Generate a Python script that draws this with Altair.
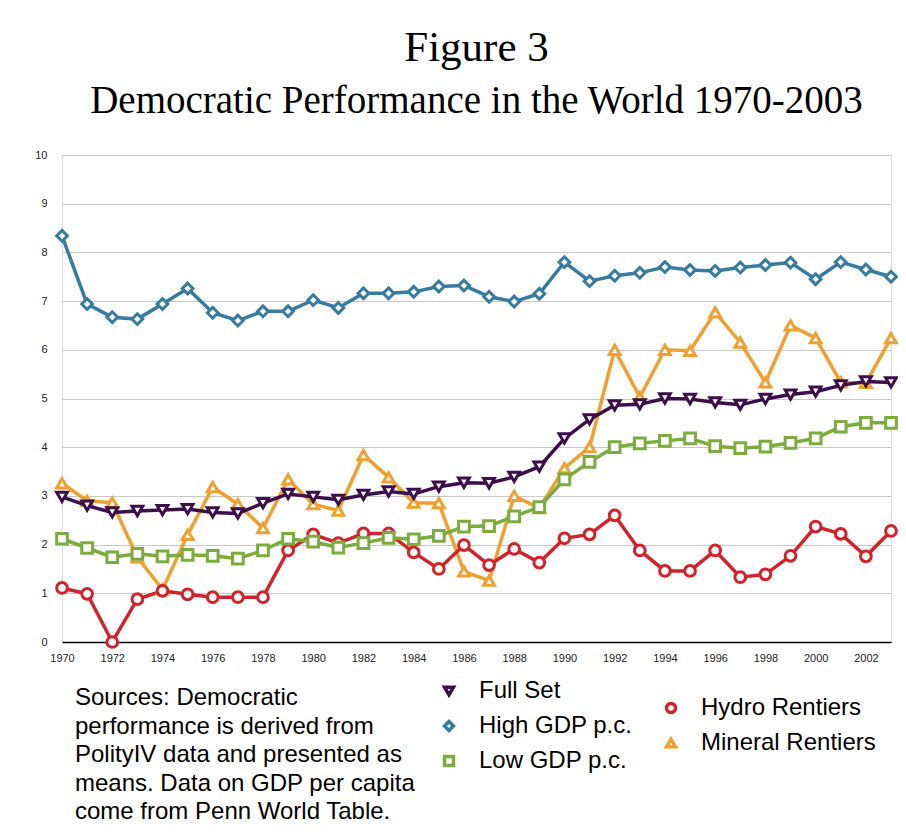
import altair as alt
import pandas as pd

years = list(range(1970, 2004))

full_set = [2.98, 2.80, 2.66, 2.69, 2.71, 2.73, 2.66, 2.64, 2.85, 3.04,
            2.98, 2.92, 3.02, 3.09, 3.04, 3.19, 3.27, 3.26, 3.39, 3.60,
            4.18, 4.57, 4.86, 4.88, 5.00, 4.99, 4.92, 4.87, 4.99, 5.08,
            5.14, 5.27, 5.35, 5.33]
high_gdp = [8.34, 6.94, 6.67, 6.63, 6.94, 7.26, 6.76, 6.60, 6.79, 6.79,
            7.02, 6.86, 7.16, 7.16, 7.19, 7.30, 7.32, 7.09, 6.99, 7.15,
            7.80, 7.41, 7.52, 7.58, 7.70, 7.64, 7.62, 7.69, 7.74, 7.79,
            7.45, 7.80, 7.65, 7.50]
low_gdp = [2.12, 1.93, 1.74, 1.81, 1.76, 1.79, 1.77, 1.71, 1.88, 2.12,
           2.06, 1.94, 2.03, 2.14, 2.11, 2.18, 2.37, 2.38, 2.58, 2.77,
           3.34, 3.70, 4.00, 4.08, 4.13, 4.18, 4.02, 3.98, 4.01, 4.09,
           4.18, 4.42, 4.50, 4.50]
hydro = [1.11, 0.99, 0.00, 0.88, 1.05, 0.98, 0.92, 0.92, 0.92, 1.88,
         2.21, 2.03, 2.23, 2.23, 1.84, 1.50, 1.99, 1.58, 1.91, 1.63,
         2.13, 2.21, 2.60, 1.88, 1.46, 1.46, 1.88, 1.33, 1.39, 1.77,
         2.37, 2.22, 1.76, 2.28]
mineral = [3.26, 2.90, 2.86, 1.74, 1.08, 2.20, 3.18, 2.83, 2.34, 3.34,
           2.83, 2.70, 3.84, 3.38, 2.86, 2.85, 1.45, 1.26, 3.00, 2.75,
           3.57, 4.00, 6.00, 5.03, 6.00, 5.98, 6.77, 6.15, 5.33, 6.50,
           6.24, 5.33, 5.32, 6.24]

series_a = ["Full Set", "High GDP p.c.", "Low GDP p.c."]
colors_a = ["#3c0f4b", "#367ba0", "#7aad3d"]
shapes_a = ["triangle-down", "diamond", "square"]
series_b = ["Hydro Rentiers", "Mineral Rentiers"]
colors_b = ["#d2232a", "#f0a030"]
shapes_b = ["circle", "triangle-up"]

x_ticks = list(range(1970, 2003, 2))
y_ticks = list(range(0, 11))

title_text = "Figure 3"
subtitle_text = "Democratic Performance in the World 1970-2003"
sources_lines = ["Sources: Democratic",
                 "performance is derived from",
                 "PolityIV data and presented as",
                 "means. Data on GDP per capita",
                 "come from Penn World Table."]


def long_frame(pairs):
    rows = []
    for name, vals in pairs:
        for y, v in zip(years, vals):
            rows.append({"year": y, "value": v, "series": name})
    return pd.DataFrame(rows)


# drawing order: bottom first
df_b = long_frame([("Mineral Rentiers", mineral), ("Hydro Rentiers", hydro)])
df_a = long_frame([("Low GDP p.c.", low_gdp), ("High GDP p.c.", high_gdp), ("Full Set", full_set)])

FONT = "Liberation Sans"

x_enc = alt.X("year:Q",
              scale=alt.Scale(domain=[1970, 2003], nice=False, zero=False),
              axis=alt.Axis(values=x_ticks, format="d", title=None, grid=False,
                            ticks=False, tickSize=0, domainColor="black", domainWidth=1.5,
                            labelPadding=10, labelFontSize=11, labelFont=FONT,
                            labelColor="#222222", labelFlush=False))
y_enc = alt.Y("value:Q",
              scale=alt.Scale(domain=[0, 10], nice=False, zero=True),
              axis=alt.Axis(values=y_ticks, title=None, domain=False, ticks=False,
                            tickSize=0, gridColor="#c8c8c8", gridWidth=1,
                            labelPadding=15, labelFontSize=11, labelFont=FONT,
                            labelColor="#222222"))


def make_group(df, names, colors, shapes, lx, ly):
    leg = alt.Legend(title=None, orient="none", legendX=lx, legendY=ly,
                     labelFontSize=24, labelFont=FONT, labelColor="black",
                     labelLimit=400, symbolSize=80, symbolStrokeWidth=3.5,
                     rowPadding=11, labelOffset=18, padding=0)
    cscale = alt.Scale(domain=names, range=colors)
    sscale = alt.Scale(domain=names, range=shapes)
    line = alt.Chart(df).mark_line(strokeWidth=3.5).encode(
        x=x_enc, y=y_enc,
        stroke=alt.Stroke("series:N", scale=cscale, legend=None),
        detail="series:N",
    )
    pts = alt.Chart(df).mark_point(filled=False, fill="white", strokeWidth=3,
                                   size=115, opacity=1).encode(
        x=x_enc, y=y_enc,
        color=alt.Color("series:N", scale=cscale, legend=leg),
        shape=alt.Shape("series:N", scale=sscale, legend=leg),
    )
    return line, pts


line_b, pts_b = make_group(df_b, series_b, colors_b, shapes_b, 597, 541)
line_a, pts_a = make_group(df_a, series_a, colors_a, shapes_a, 375, 524)

src = alt.Chart(pd.DataFrame({"t": ["\n".join(sources_lines)]})).mark_text(
    align="left", baseline="alphabetic", fontSize=24, lineHeight=28.5,
    lineBreak="\n", font=FONT, color="black"
).encode(text="t:N", x=alt.value(13), y=alt.value(550))

chart = alt.layer(line_b, pts_b, line_a, pts_a, src).resolve_scale(
    color="independent", shape="independent", stroke="independent"
).properties(
    width=829, height=487,
    autosize=alt.AutoSizeParams(type="none"),
    padding={"left": 54, "top": 147, "right": 7, "bottom": 184},
    title=alt.TitleParams(text=title_text, subtitle=subtitle_text,
                          font="Liberation Serif", fontSize=43, fontWeight="normal",
                          color="black", subtitleFont="Liberation Serif",
                          subtitleFontSize=39, subtitleColor="black",
                          subtitlePadding=12, anchor="middle", offset=28),
).configure_view(stroke=None).configure(background="white")

chart.save("out.html", embed_options={"renderer": "svg", "actions": False})
